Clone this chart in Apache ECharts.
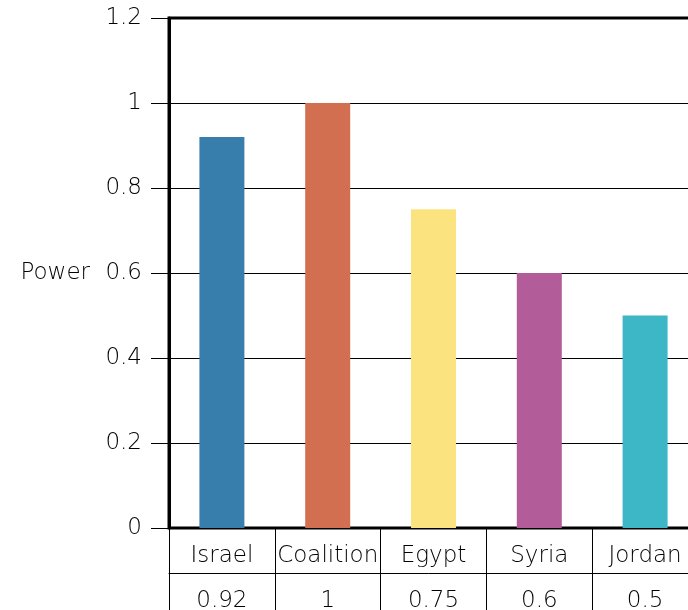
<!DOCTYPE html>
<html>
<head>
<meta charset="utf-8">
<script src="https://cdn.jsdelivr.net/npm/echarts@6/dist/echarts.min.js"></script>
<style>
  html, body { margin: 0; padding: 0; background: #fff; overflow: hidden; }
  #chart { width: 688px; height: 610px; }
</style>
</head>
<body>
<div id="chart"></div>
<script>
// Power of each party
const categories = ['Israel', 'Coalition', 'Egypt', 'Syria', 'Jordan'];
const powerValues = [0.92, 1, 0.75, 0.6, 0.5];
const barColors = ['#387EAD', '#D36F51', '#FBE480', '#B25D99', '#3DB7C6'];
const yTicks = { min: 0, max: 1.2, step: 0.2 };

const FONT = '"DejaVu Sans", sans-serif';
const WEIGHT = 200;
const SIZE = 23;
const TEXT = '#000';

const chart = echarts.init(document.getElementById('chart'));

chart.setOption({
  animation: false,
  grid: {
    left: 169, right: -10, top: 18, bottom: 82,
    outerBoundsMode: 'none',
    containLabel: false,
    show: true, borderColor: '#000', borderWidth: 3, backgroundColor: 'transparent'
  },
  xAxis: [
    {
      type: 'category',
      data: categories,
      position: 'bottom',
      axisLine: { lineStyle: { color: '#000', width: 2 } },
      axisTick: { show: true, interval: 0, length: 82, lineStyle: { color: '#000', width: 1 } },
      axisLabel: {
        interval: 0,
        margin: 6,
        formatter: (name, idx) => '{n|' + name + '}\n{v|' + powerValues[idx] + '}',
        rich: {
          n: { fontFamily: FONT, fontWeight: WEIGHT, fontSize: SIZE, color: TEXT, lineHeight: 45 },
          v: { fontFamily: FONT, fontWeight: WEIGHT, fontSize: SIZE, color: TEXT, lineHeight: 45 }
        }
      }
    },
    {
      // separator between the name row and the value row of the data table
      type: 'category',
      data: categories,
      position: 'bottom',
      offset: 45,
      axisLine: { lineStyle: { color: '#000', width: 1 } },
      axisTick: { show: false },
      axisLabel: { show: false }
    }
  ],
  yAxis: {
    type: 'value',
    min: yTicks.min, max: yTicks.max, interval: yTicks.step,
    name: 'Power',
    nameLocation: 'middle',
    nameRotate: 0,
    nameGap: 79,
    nameTextStyle: { fontFamily: FONT, fontWeight: WEIGHT, fontSize: SIZE, color: TEXT, padding: [5, 0, 0, 0] },
    axisLine: { show: true, lineStyle: { color: '#000', width: 3 } },
    axisTick: { show: true, inside: false, length: 18, lineStyle: { color: '#000', width: 1 } },
    axisLabel: { margin: 27, fontFamily: FONT, fontWeight: WEIGHT, fontSize: SIZE, color: TEXT, padding: [3, 0, 0, 0] },
    splitLine: { show: true, lineStyle: { color: '#000', width: 1 } }
  },
  series: [{
    type: 'bar',
    xAxisIndex: 0,
    barWidth: 45,
    data: powerValues.map((v, i) => ({ value: v, itemStyle: { color: barColors[i] } }))
  }]
});
</script>
</body>
</html>
